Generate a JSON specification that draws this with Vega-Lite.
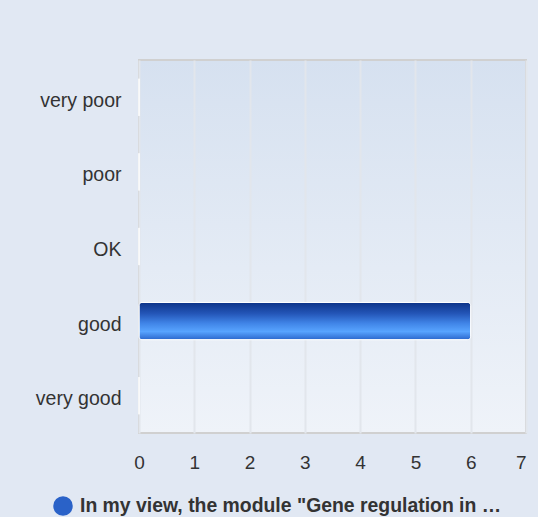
{
  "$schema": "https://vega.github.io/schema/vega-lite/v6.json",
  "width": 387,
  "height": 373,
  "autosize": "none",
  "padding": {"left": 139, "top": 60, "right": 12, "bottom": 84},
  "background": "#e1e8f3",
  "config": {
    "font": "Liberation Sans",
    "view": {
      "stroke": "#d0d0d0",
      "strokeWidth": 2,
      "fill": {
        "gradient": "linear",
        "x1": 0, "y1": 0, "x2": 0, "y2": 1,
        "stops": [
          {"offset": 0, "color": "#d6e1f0"},
          {"offset": 1, "color": "#eff3f9"}
        ]
      }
    }
  },
  "data": {
    "values": [
      {"rating": "very poor", "count": 0, "series": "In my view, the module \"Gene regulation in …"},
      {"rating": "poor", "count": 0, "series": "In my view, the module \"Gene regulation in …"},
      {"rating": "OK", "count": 0, "series": "In my view, the module \"Gene regulation in …"},
      {"rating": "good", "count": 6, "series": "In my view, the module \"Gene regulation in …"},
      {"rating": "very good", "count": 0, "series": "In my view, the module \"Gene regulation in …"}
    ]
  },
  "encoding": {
    "y": {
      "field": "rating",
      "type": "nominal",
      "sort": ["very poor", "poor", "OK", "good", "very good"],
      "scale": {"paddingInner": 0.5, "paddingOuter": 0.25},
      "title": null,
      "axis": {
        "domain": false,
        "ticks": false,
        "grid": false,
        "labelFontSize": 19.5,
        "labelColor": "#333333",
        "labelPadding": 18,
        "labelOffset": 3.5
      }
    },
    "x": {
      "field": "count",
      "type": "quantitative",
      "scale": {"domain": [0, 7], "nice": false},
      "title": null,
      "axis": {
        "values": [0, 1, 2, 3, 4, 5, 6, 7],
        "format": "d",
        "domain": false,
        "ticks": false,
        "grid": true,
        "gridColor": "#e2e6ec",
        "gridWidth": 2,
        "labelFlush": false,
        "labelAlign": {"condition": {"test": "datum.value == 7", "value": "right"}, "value": "center"},
        "labelFontSize": 19,
        "labelColor": "#333333",
        "labelPadding": 20
      }
    }
  },
  "layer": [
    {
      "mark": {
        "type": "bar",
        "cornerRadius": 3,
        "stroke": "white",
        "strokeWidth": 1,
        "fill": {
          "gradient": "linear",
          "x1": 0, "y1": 0, "x2": 0, "y2": 1,
          "stops": [
            {"offset": 0, "color": "#0c3388"},
            {"offset": 0.3, "color": "#2456b8"},
            {"offset": 0.55, "color": "#3f83e6"},
            {"offset": 0.78, "color": "#58a4ff"},
            {"offset": 1, "color": "#2a66cc"}
          ]
        }
      }
    },
    {
      "mark": {"type": "point", "filled": true, "opacity": 0},
      "encoding": {
        "fill": {
          "field": "series",
          "type": "nominal",
          "scale": {"range": ["#2a62c8"]},
          "legend": {
            "title": null,
            "orient": "none",
            "legendX": -86,
            "legendY": 436,
            "symbolType": "circle",
            "symbolSize": 380,
            "symbolOpacity": 1,
            "symbolStrokeWidth": 0,
            "labelFontSize": 19.4,
            "labelFontWeight": "bold",
            "labelColor": "#333333",
            "labelLimit": 500,
            "labelOffset": 7,
            "encode": {
              "symbols": {
                "update": {
                  "fill": {
                    "value": {
                      "gradient": "linear",
                      "x1": 0, "y1": 0, "x2": 1, "y2": 0,
                      "stops": [
                        {"offset": 0, "color": "#4a90f0"},
                        {"offset": 0.6, "color": "#2a62c8"},
                        {"offset": 1, "color": "#0f3a8c"}
                      ]
                    }
                  },
                  "opacity": {"value": 1}
                }
              }
            }
          }
        }
      }
    }
  ]
}
